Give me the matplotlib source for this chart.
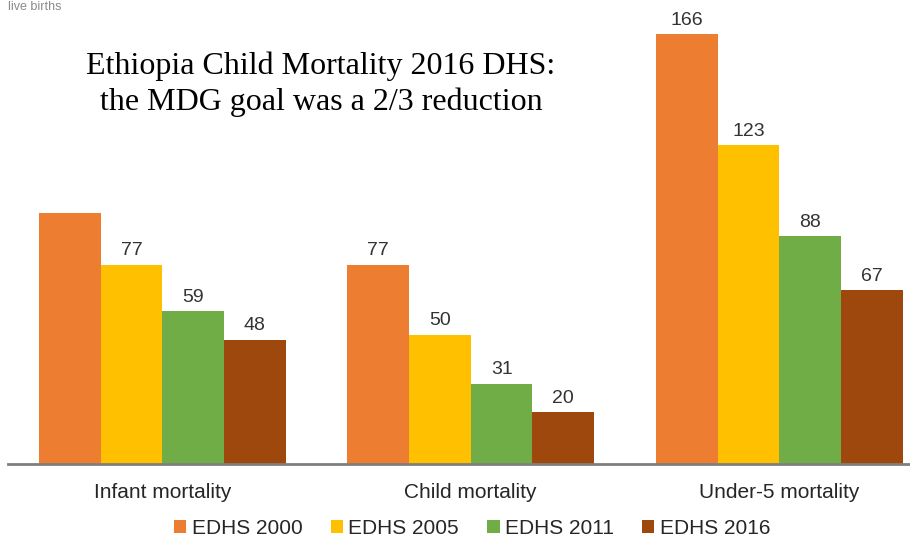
import matplotlib
matplotlib.use("Agg")
import matplotlib.pyplot as plt
import numpy as np

# Deaths per 1,000 live births, Ethiopia DHS rounds
categories = ["Infant mortality", "Child mortality", "Under-5 mortality"]
series_names = ["EDHS 2000", "EDHS 2005", "EDHS 2011", "EDHS 2016"]
edhs_2000 = [97, 77, 166]
edhs_2005 = [77, 50, 123]
edhs_2011 = [59, 31, 88]
edhs_2016 = [48, 20, 67]
colors = ["#ED7D31", "#FFC000", "#70AD47", "#9E480E"]

W, H = 910, 539
fig = plt.figure(figsize=(W / 100, H / 100), dpi=100)
fig.patch.set_facecolor("white")

def px(x, y):
    return x / W, 1 - y / H

# axes: left edge at x=8px, baseline at y=464px, top at the figure edge
ax = fig.add_axes([8 / W, (H - 464) / H, (W - 8) / W, 464 / H])
ax.set_facecolor("white")

x = np.arange(len(categories))
width = 0.2
offsets = [-1.5 * width, -0.5 * width, 0.5 * width, 1.5 * width]
all_series = [edhs_2000, edhs_2005, edhs_2011, edhs_2016]

bars = []
for vals, off, col, name in zip(all_series, offsets, colors, series_names):
    b = ax.bar(x + off, vals, width, color=col, label=name, linewidth=0)
    bars.append(b)
    labels = [str(v) for v in vals]
    if name == "EDHS 2000":
        labels[0] = ""  # label sits beneath the title panel
    ax.bar_label(b, labels=labels, padding=4, fontsize=14,
                 color="#333333", family="Liberation Sans")

ax.set_xlim(-0.5, -0.5 + (W - 8) / 308.5)
ax.set_ylim(0, 464 / 2.59)

for s in ["top", "right", "left"]:
    ax.spines[s].set_visible(False)
ax.spines["bottom"].set_color("#7f7f7f")
ax.spines["bottom"].set_linewidth(2)
ax.set_yticks([])
ax.set_xticks(x)
ax.set_xticklabels(categories, fontsize=15, color="#262626", family="Liberation Sans")
ax.tick_params(axis="x", length=0, pad=14)

leg = fig.legend(handles=bars, labels=series_names, loc="center",
                 bbox_to_anchor=px(472, 528), ncol=4, frameon=False,
                 prop={"family": "Liberation Sans", "size": 15},
                 handlelength=0.6, handleheight=0.6, handletextpad=0.25,
                 columnspacing=1.35, borderaxespad=0, borderpad=0)
for t in leg.get_texts():
    t.set_color("#262626")

# title panel
fig.text(*px(321, 74), "Ethiopia Child Mortality 2016 DHS:", ha="center",
         va="baseline", fontsize=23, family="Liberation Serif", color="black")
fig.text(*px(321, 110), "the MDG goal was a 2/3 reduction", ha="center",
         va="baseline", fontsize=23, family="Liberation Serif", color="black")

# unit note at the top-left edge
fig.text(*px(8, 10), "live births", ha="left", va="baseline", fontsize=9,
         family="Liberation Sans", color="#8a8a8a")

fig.savefig("out.png", dpi=100, facecolor="white")
